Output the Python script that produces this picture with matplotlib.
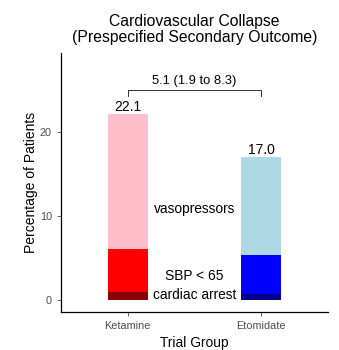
import matplotlib.pyplot as plt

plt.rcParams['font.family'] = ['Liberation Sans', 'DejaVu Sans']

# Data
groups = ['Ketamine', 'Etomidate']
cardiac_arrest = [1.0, 0.8]
sbp_below_65 = [6.1, 5.4]      # cumulative top (includes cardiac arrest)
vasopressors = [22.1, 17.0]    # cumulative top (overall total)
totals_text = ['22.1', '17.0']
diff_text = '5.1 (1.9 to 8.3)'
colors_top = ['#FFC0CB', '#ADD8E6']
colors_mid = ['#FF0000', '#0000FF']
colors_low = ['#8B0000', '#00008B']

fig = plt.figure(figsize=(3.39, 3.5), dpi=100)
ax = fig.add_axes([61 / 339, 1 - 311.7 / 350, (328 - 61) / 339, (311.7 - 53) / 350])

x = [1, 2]
w = 0.3
for i in range(2):
    ax.bar(x[i], vasopressors[i], width=w, color=colors_top[i])
    ax.bar(x[i], sbp_below_65[i], width=w, color=colors_mid[i])
    ax.bar(x[i], cardiac_arrest[i], width=w, color=colors_low[i])
    ax.text(x[i], vasopressors[i] + 0.4, totals_text[i], ha='center', va='baseline',
            fontsize=10, color='black')

# segment labels in the middle
ax.text(1.5, 10.9, 'vasopressors', ha='center', va='center', fontsize=9.9)
ax.text(1.5, 2.9, 'SBP < 65', ha='center', va='center', fontsize=9.9)
ax.text(1.5, 0.6, 'cardiac arrest', ha='center', va='center', fontsize=9.9)

# bracket for difference
ax.plot([1, 1, 2, 2], [24.3, 25.0, 25.0, 24.3], color='#333333', lw=0.7)
ax.text(1.5, 25.3, diff_text, ha='center', va='bottom', fontsize=9.4)

ax.set_xlim(0.5, 2.5)
ax.set_ylim(-1.36, 29.4)
ax.set_xticks(x)
ax.set_xticklabels(groups)
ax.set_yticks([0, 10, 20])
ax.tick_params(colors='#4D4D4D', labelsize=7.8, length=3, width=0.6)
for s in ['top', 'right']:
    ax.spines[s].set_visible(False)
for s in ['left', 'bottom']:
    ax.spines[s].set_linewidth(0.9)

ax.set_xlabel('Trial Group', fontsize=9.9)
ax.set_ylabel('Percentage of Patients', fontsize=10, labelpad=1.5)
fig.text(194.5 / 339, 1 - 29.5 / 350, 'Cardiovascular Collapse\n(Prespecified Secondary Outcome)',
         ha='center', va='center', fontsize=11.3, linespacing=1.1)

fig.savefig('out.png', dpi=100)
